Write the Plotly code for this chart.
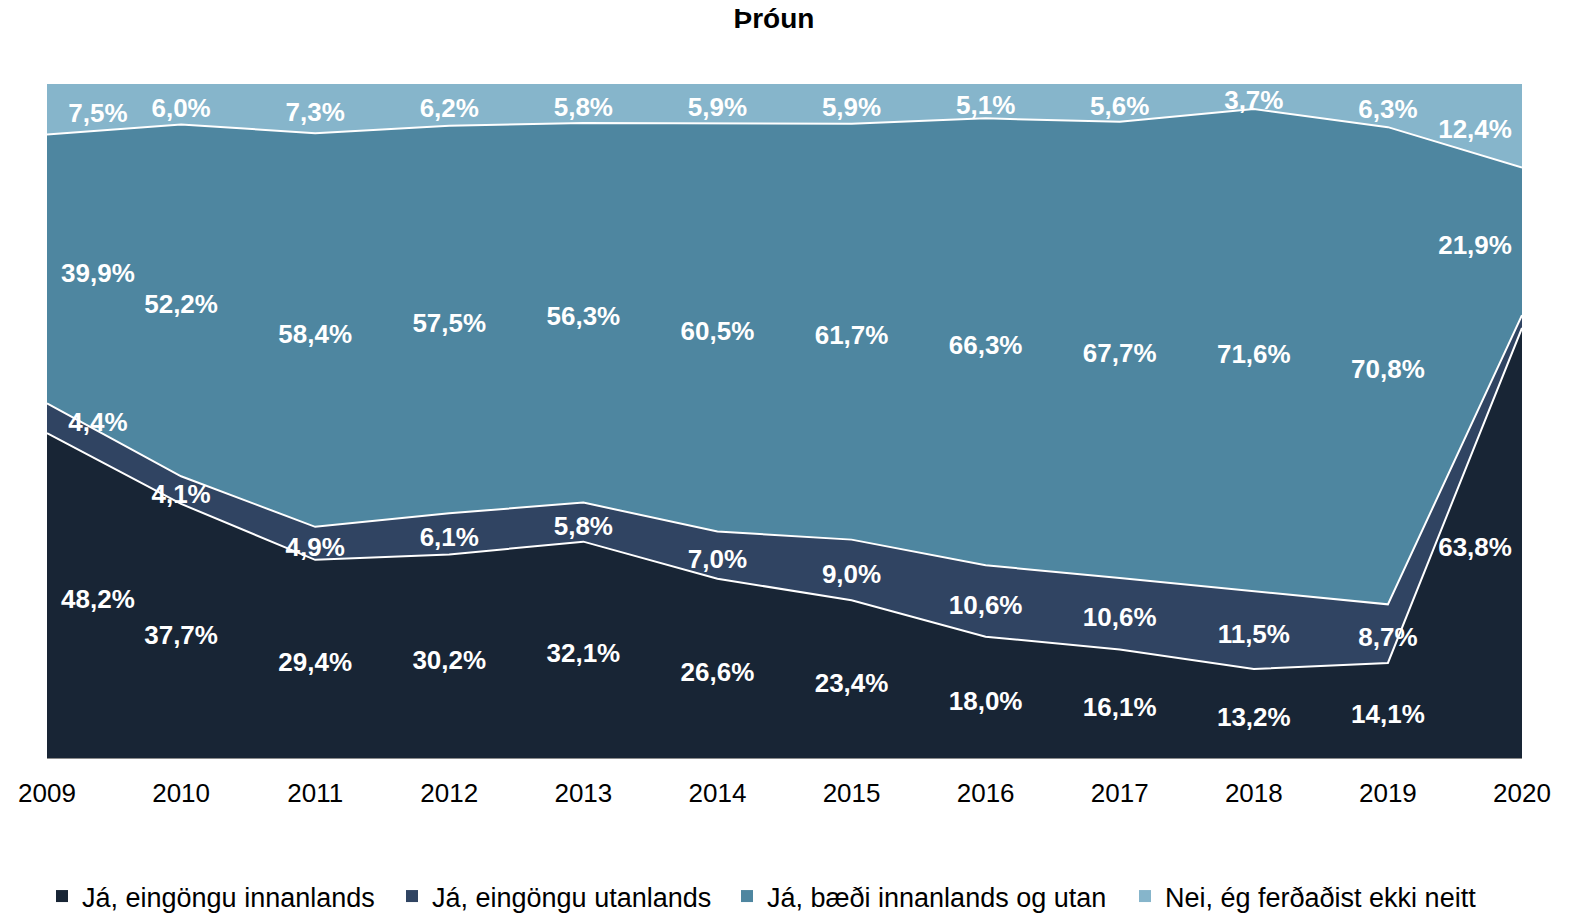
import plotly.graph_objects as go

years = [2009, 2010, 2011, 2012, 2013, 2014, 2015, 2016, 2017, 2018, 2019, 2020]
series_names = ["Já, eingöngu innanlands", "Já, eingöngu utanlands",
                "Já, bæði innanlands og utan", "Nei, ég ferðaðist ekki neitt"]
innanlands = [48.2, 37.7, 29.4, 30.2, 32.1, 26.6, 23.4, 18.0, 16.1, 13.2, 14.1, 63.8]
utanlands = [4.4, 4.1, 4.9, 6.1, 5.8, 7.0, 9.0, 10.6, 10.6, 11.5, 8.7, 1.9]
baedi = [39.9, 52.2, 58.4, 57.5, 56.3, 60.5, 61.7, 66.3, 67.7, 71.6, 70.8, 21.9]
nei = [7.5, 6.0, 7.3, 6.2, 5.8, 5.9, 5.9, 5.1, 5.6, 3.7, 6.3, 12.4]

colors = ["#182535", "#304462", "#4E86A0", "#86B5CB"]
FONT = "Liberation Sans, Arial, sans-serif"

all_series = [innanlands, utanlands, baedi, nei]

fig = go.Figure()
for i, (name, vals) in enumerate(zip(series_names, all_series)):
    fig.add_trace(go.Scatter(
        x=years, y=vals, name=name, stackgroup="one", mode="lines",
        line=dict(color="white", width=0 if i == 3 else 2),
        fillcolor=colors[i], showlegend=False, hoverinfo="skip"))

# label positions (midpoints of each band, nudged slightly down);
# first/last nudged inward like the source
lab_x, lab_y, lab_t = [], [], []
cum = [0.0] * len(years)
for vals in all_series:
    for j, v in enumerate(vals):
        if v >= 2:
            x = years[j]
            if j == 0:
                x += 0.38
            elif j == len(years) - 1:
                x -= 0.35
            lab_x.append(x)
            lab_y.append(cum[j] + v / 2 - 0.9)
            lab_t.append(f"{v:.1f}".replace(".", ",") + "%")
    cum = [c + v for c, v in zip(cum, vals)]

fig.add_trace(go.Scatter(
    x=lab_x, y=lab_y, text=lab_t, mode="text", showlegend=False, hoverinfo="skip",
    textfont=dict(family=FONT, size=26, color="white", weight="bold"),
    cliponaxis=False))

# legend entries with square markers, each in its own legend for exact placement
legend_ids = ["legend", "legend2", "legend3", "legend4"]
legend_x = [42, 392, 727, 1125]
for name, c, lid in zip(series_names, colors, legend_ids):
    fig.add_trace(go.Scatter(
        x=[None], y=[None], mode="markers", name=name, legend=lid,
        marker=dict(symbol="square", size=12, color=c)))

legend_common = dict(orientation="h", xref="container", xanchor="left",
                     y=46 / 918, yref="container", yanchor="top",
                     font=dict(family=FONT, size=27, color="black"),
                     itemwidth=30, bgcolor="rgba(0,0,0,0)")

layout_legends = {}
for lid, lx in zip(legend_ids, legend_x):
    layout_legends[lid] = dict(legend_common, x=lx / 1577)

fig.update_layout(
    width=1577, height=918,
    paper_bgcolor="white", plot_bgcolor="white",
    margin=dict(l=47, r=55, t=84, b=160, autoexpand=False),
    title=dict(text="<b>Þróun</b>", x=774 / 1577, xanchor="center", xref="container",
               y=1 - 8 / 918, yanchor="top", yref="container", pad=dict(t=0, b=0),
               font=dict(family=FONT, size=28, color="black")),
    xaxis=dict(range=[2009, 2020], tickvals=years, ticktext=[str(y) for y in years],
               showgrid=False, zeroline=False, showline=True, linecolor="#8C8C8C",
               linewidth=1, ticks="", ticklabelstandoff=12,
               tickfont=dict(family=FONT, size=26, color="black")),
    yaxis=dict(range=[0, 100], visible=False, showgrid=False),
    showlegend=True,
    **layout_legends,
)

fig.write_html("out.html", config={"displayModeBar": False},
               post_script="document.body.style.margin='0';")
